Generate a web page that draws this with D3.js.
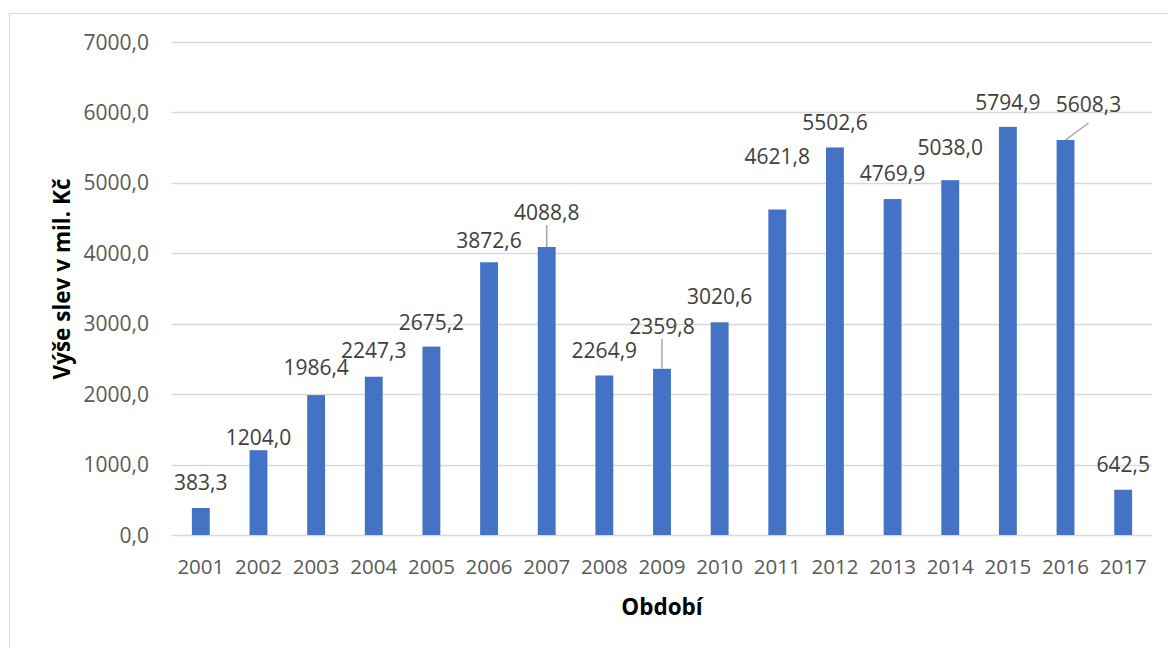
<!DOCTYPE html>
<html>
<head>
<meta charset="utf-8">
<script src="https://cdn.jsdelivr.net/npm/d3@7"></script>
<style>
  html, body { margin: 0; padding: 0; background: #fff; }
  svg { display: block; font-family: "Open Sans", "Liberation Sans", sans-serif; }
</style>
</head>
<body>
<svg id="chart" width="1168" height="648"></svg>
<script>
// Roky a výše slev (mil. Kč)
const years = ["2001","2002","2003","2004","2005","2006","2007","2008","2009",
               "2010","2011","2012","2013","2014","2015","2016","2017"];
const discounts = [383.3, 1204.0, 1986.4, 2247.3, 2675.2, 3872.6, 4088.8, 2264.9, 2359.8,
                   3020.6, 4621.8, 5502.6, 4769.9, 5038.0, 5794.9, 5608.3, 642.5];
const yTicks = [0, 1000, 2000, 3000, 4000, 5000, 6000, 7000];

// Posun popisků nad sloupci (px) a jejich vodicí čáry
const labelLift = [25, 12, 27, 26, 24, 21, 34, 25, 42, 25, 53, 25, 25, 32, 24, 35, 25];
const labelShiftX = [0, 0, 0, 0, 0, 0, 0, 0, 0, 0, 0, 0, 0, 0, 0, 23, 0];
const withLeader = new Set(["2007", "2009", "2016"]);

const fmt = v => v.toFixed(1).replace(".", ",");

const svg = d3.select("#chart");
const plot = { left: 172, right: 1152, top: 42, bottom: 535 };

// Rámeček grafu
svg.append("rect")
  .attr("x", 9.5).attr("y", 13.5)
  .attr("width", 1200).attr("height", 700)
  .attr("fill", "none").attr("stroke", "#d9d9d9").attr("stroke-width", 1);

const x = d3.scaleBand().domain(years).range([plot.left, plot.right])
  .paddingInner(0.69).paddingOuter(0.345);
const y = d3.scaleLinear().domain([0, 7000]).range([plot.bottom, plot.top]);

// Vodorovná mřížka
svg.append("g").selectAll("line").data(yTicks).join("line")
  .attr("x1", plot.left).attr("x2", plot.right)
  .attr("y1", d => Math.round(y(d)) + 0.5).attr("y2", d => Math.round(y(d)) + 0.5)
  .attr("stroke", "#d9d9d9").attr("stroke-width", 1.3);

// Osa Y
const yAxis = d3.axisLeft(y).tickValues(yTicks).tickFormat(fmt).tickSize(0).tickPadding(0);
const gy = svg.append("g").attr("transform", `translate(149,0)`).call(yAxis);
gy.select(".domain").remove();
gy.selectAll("text").attr("fill", "#595959").attr("font-size", "21px")
  .attr("font-family", "Open Sans").attr("dy", "0.34em");

// Osa X
const xAxis = d3.axisBottom(x).tickSize(0).tickPadding(0);
const gx = svg.append("g").attr("transform", `translate(0,567)`).call(xAxis);
gx.select(".domain").remove();
gx.selectAll("text").attr("fill", "#595959").attr("font-size", "20.5px")
  .attr("font-family", "Open Sans").attr("dy", "0.34em");

// Sloupce
svg.append("g").selectAll("rect").data(years).join("rect")
  .attr("x", d => x(d))
  .attr("y", (d, i) => y(discounts[i]))
  .attr("width", x.bandwidth())
  .attr("height", (d, i) => y(0) - y(discounts[i]))
  .attr("fill", "#4472c4");

// Vodicí čáry popisků
const cx = d => x(d) + x.bandwidth() / 2;
svg.append("g").selectAll("line").data(years.filter(d => withLeader.has(d))).join("line")
  .each(function(d) {
    const i = years.indexOf(d);
    const top = y(discounts[i]);
    const lx = cx(d) + labelShiftX[i];
    const ly = top - labelLift[i] + 12;
    d3.select(this)
      .attr("x1", labelShiftX[i] ? lx : cx(d)).attr("y1", labelShiftX[i] ? ly + 6 : ly)
      .attr("x2", cx(d)).attr("y2", top);
  })
  .attr("stroke", "#a6a6a6").attr("stroke-width", 1.5);

// Popisky hodnot
svg.append("g").selectAll("text").data(years).join("text")
  .attr("x", (d, i) => cx(d) + labelShiftX[i])
  .attr("y", (d, i) => y(discounts[i]) - labelLift[i])
  .attr("dy", "0.34em")
  .attr("text-anchor", "middle")
  .attr("font-size", "21px")
  .attr("fill", "#404040")
  .text((d, i) => fmt(discounts[i]));

// Názvy os
svg.append("text")
  .attr("transform", "translate(62,279) rotate(-90)")
  .attr("text-anchor", "middle").attr("dy", "0.34em")
  .attr("font-size", "22.5px").attr("font-weight", "bold").attr("fill", "#000")
  .text("Výše slev v mil. Kč");

svg.append("text")
  .attr("x", 662).attr("y", 607).attr("dy", "0.34em")
  .attr("text-anchor", "middle")
  .attr("font-size", "22.5px").attr("font-weight", "bold").attr("fill", "#000")
  .text("Období");
</script>
</body>
</html>
